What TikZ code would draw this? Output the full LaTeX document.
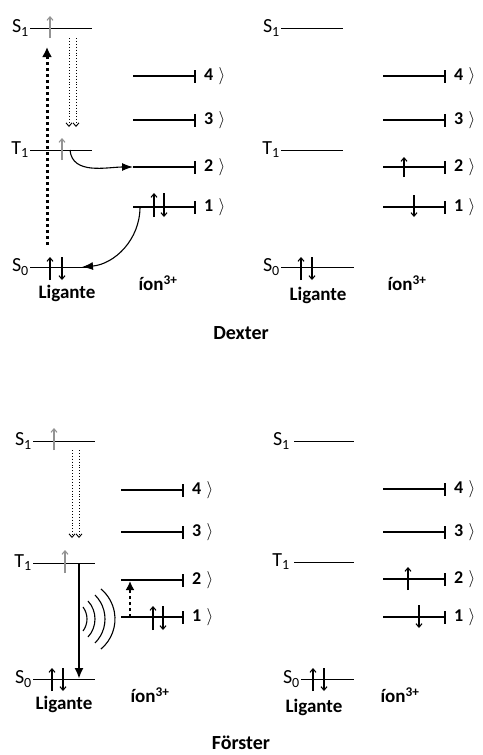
\documentclass[tikz,border=0pt]{standalone}
\usepackage{fontspec}
\setmainfont{Carlito}
\usetikzlibrary{arrows.meta}
\begin{document}
\begin{tikzpicture}[x=1pt,y=-1pt,
  lev/.style={line width=0.9pt},
  ionlev/.style={line width=1.7pt},
  thinion/.style={line width=1.1pt},
  spin/.style={line width=1.1pt,-{Straight Barb[length=3.5pt,width=6pt]}},
  gspin/.style={spin,draw=gray!85},
  lvlab/.style={anchor=east,inner sep=1pt,font=\fontsize{20}{22}\selectfont},
  ketbar/.style={line width=1.9pt},
  ketlab/.style={anchor=base west,inner sep=0pt,font=\fontsize{18}{20}\selectfont\bfseries},
  big/.style={font=\fontsize{19}{22}\selectfont\bfseries,inner sep=0pt},
  title/.style={font=\fontsize{20}{24}\selectfont\bfseries,inner sep=0pt},
  bigdot/.style={line width=3pt,dash pattern=on 3pt off 3pt,-{Latex[length=10pt,width=10pt]}},
  fadedot/.style={line width=0.9pt,dotted,-{Straight Barb[length=3.5pt,width=6pt]}},
  curv/.style={line width=1.1pt,-{Latex[length=11pt,width=8pt]}}
]
\useasboundingbox (0,0) rectangle (482,755);
\newcommand{\ket}[1]{#1\hspace{0.3em}{\fontsize{19}{21}\selectfont$\rangle$}}
\newcommand{\ionlevel}[5]{% prefix, k, y, xl, style
  \coordinate (#1I#2l) at (#4,#3); \coordinate (#1I#2r) at (#4+61,#3);
  \draw[#5] (#1I#2l) -- (#1I#2r);
  \draw[ketbar] ([xshift=1pt,yshift=-6.5pt]#1I#2r) -- ([xshift=1pt,yshift=6.5pt]#1I#2r);
  \node[ketlab] (#1K#2) at ([xshift=10pt,yshift=-4.8pt]#1I#2r) {\ket{#2}};
}
% ================= DEXTER LEFT =================
\coordinate (aS1l) at (30,28);  \coordinate (aS1r) at (92,28);
\coordinate (aT1l) at (30,150); \coordinate (aT1r) at (92,150);
\coordinate (aS0l) at (30,267); \coordinate (aS0r) at (92,267);
\draw[lev] (aS1l) -- (aS1r); \node[lvlab] (aS1t) at (aS1l) {S\textsubscript{1}};
\draw[lev] (aT1l) -- (aT1r); \node[lvlab] (aT1t) at (aT1l) {T\textsubscript{1}};
\draw[lev] (aS0l) -- (aS0r); \node[lvlab] (aS0t) at (aS0l) {S\textsubscript{0}};
\ionlevel{a}{4}{76}{133}{ionlev}
\ionlevel{a}{3}{120}{133}{ionlev}
\ionlevel{a}{2}{167}{133}{ionlev}
\ionlevel{a}{1}{207}{133}{thinion}
\node[big] (aLig) at (67,293) {Ligante};
\node[big] (aIon) at (158,283) {íon\textsuperscript{3+}};
% spins
\draw[gspin] (50,38) -- (50,16);
\draw[gspin] (62,160) -- (62,138);
\draw[spin] (50,280) -- (50,257);
\draw[spin] (62,257) -- (62,280);
\draw[spin] (154,217) -- (154,193);
\draw[spin] (164,193) -- (164,217);
% transitions
\coordinate (aUpS) at (47,245); \coordinate (aUpE) at (47,47);
\draw[bigdot] (aUpS) -- (aUpE);
\coordinate (aD1s) at (69,38); \coordinate (aD1e) at (69,127);
\coordinate (aD2s) at (76,38); \coordinate (aD2e) at (76,127);
\draw[fadedot] (aD1s) -- (aD1e);
\draw[fadedot] (aD2s) -- (aD2e);
\coordinate (aC1s) at (70,150); \coordinate (aC1e) at (133,167);
\draw[curv] (aC1s) to[out=-85,in=180] (aC1e);
\coordinate (aC2s) at (140,207); \coordinate (aC2e) at (82,267);
\draw[curv] (aC2s) to[out=-90,in=5] (aC2e);
% ================= DEXTER RIGHT =================
\coordinate (bS1l) at (281,28);  \coordinate (bS1r) at (343,28);
\coordinate (bT1l) at (281,150); \coordinate (bT1r) at (343,150);
\coordinate (bS0l) at (281,267); \coordinate (bS0r) at (354,267);
\draw[lev] (bS1l) -- (bS1r); \node[lvlab] (bS1t) at (bS1l) {S\textsubscript{1}};
\draw[lev] (bT1l) -- (bT1r); \node[lvlab] (bT1t) at (bT1l) {T\textsubscript{1}};
\draw[lev] (bS0l) -- (bS0r); \node[lvlab] (bS0t) at (bS0l) {S\textsubscript{0}};
\ionlevel{b}{4}{76}{383}{ionlev}
\ionlevel{b}{3}{120}{383}{ionlev}
\ionlevel{b}{2}{167}{383}{ionlev}
\ionlevel{b}{1}{207}{383}{thinion}
\node[big] (bLig) at (318,295) {Ligante};
\node[big] (bIon) at (407,283) {íon\textsuperscript{3+}};
\draw[spin] (404,177) -- (404,157);
\draw[spin] (414,195) -- (414,217);
\draw[spin] (301,280) -- (301,257);
\draw[spin] (312,257) -- (312,280);
\node[title] (dex) at (241,333) {Dexter};
% ================= FORSTER LEFT =================
\coordinate (cS1l) at (33,441);  \coordinate (cS1r) at (95,441);
\coordinate (cT1l) at (33,563);  \coordinate (cT1r) at (95,563);
\coordinate (cS0l) at (33,679);  \coordinate (cS0r) at (95,679);
\draw[lev] (cS1l) -- (cS1r); \node[lvlab] (cS1t) at (cS1l) {S\textsubscript{1}};
\draw[lev] (cT1l) -- (cT1r); \node[lvlab] (cT1t) at (cT1l) {T\textsubscript{1}};
\draw[lev] (cS0l) -- (cS0r); \node[lvlab] (cS0t) at (cS0l) {S\textsubscript{0}};
\ionlevel{c}{4}{490}{121}{ionlev}
\ionlevel{c}{3}{532}{121}{ionlev}
\ionlevel{c}{2}{580}{121}{ionlev}
\ionlevel{c}{1}{617}{121}{thinion}
\node[big] (cLig) at (64,704) {Ligante};
\node[big] (cIon) at (150,695) {íon\textsuperscript{3+}};
\draw[gspin] (54,450) -- (54,428);
\draw[gspin] (65,573) -- (65,550);
\draw[spin] (153,630) -- (153,606);
\draw[spin] (163,606) -- (163,630);
\draw[spin] (52,691) -- (52,668);
\draw[spin] (63,668) -- (63,691);
\coordinate (cD1s) at (72,450); \coordinate (cD1e) at (72,538);
\coordinate (cD2s) at (79,450); \coordinate (cD2e) at (79,538);
\draw[fadedot] (cD1s) -- (cD1e);
\draw[fadedot] (cD2s) -- (cD2e);
\coordinate (cDn) at (79,563); \coordinate (cDe) at (79,679);
\draw[line width=2.2pt,-{Latex[length=11pt,width=9pt]}] (cDn) -- (cDe);
\coordinate (cUs) at (130,617); \coordinate (cUe) at (130,581);
\draw[line width=2.5pt,dash pattern=on 3pt off 3pt,-{Latex[length=9pt,width=9pt]}] (cUs) -- (cUe);
\foreach \c/\r/\t in {67/20/37,68.4/26.6/42.6,71.2/33.8/45.2,75.9/39.1/50.1}{
  \draw[line width=1.1pt] (\c,619) ++(\t:\r) arc[start angle=\t,end angle=-\t,radius=\r];
}
% ================= FORSTER RIGHT =================
\coordinate (dS1l) at (294,441);  \coordinate (dS1r) at (354,441);
\coordinate (dT1l) at (294,562);  \coordinate (dT1r) at (354,562);
\coordinate (dS0l) at (301,679);  \coordinate (dS0r) at (354,679);
\draw[lev] (dS1l) -- (dS1r); \node[lvlab] (dS1t) at ([xshift=-3pt]dS1l) {S\textsubscript{1}};
\draw[lev] (dT1l) -- (dT1r); \node[lvlab] (dT1t) at ([xshift=-3pt]dT1l) {T\textsubscript{1}};
\draw[lev] (dS0l) -- (dS0r); \node[lvlab] (dS0t) at (dS0l) {S\textsubscript{0}};
\ionlevel{d}{4}{489}{383}{ionlev}
\ionlevel{d}{3}{532}{383}{ionlev}
\ionlevel{d}{2}{579}{383}{ionlev}
\ionlevel{d}{1}{617}{383}{thinion}
\node[big] (dLig) at (314,707) {Ligante};
\node[big] (dIon) at (400,695) {íon\textsuperscript{3+}};
\draw[spin] (408,590) -- (408,567);
\draw[spin] (419,605) -- (419,628);
\draw[spin] (313,691) -- (313,668);
\draw[spin] (324,668) -- (324,691);
\node[title] (for) at (241,743) {Förster};
\end{tikzpicture}
\end{document}
